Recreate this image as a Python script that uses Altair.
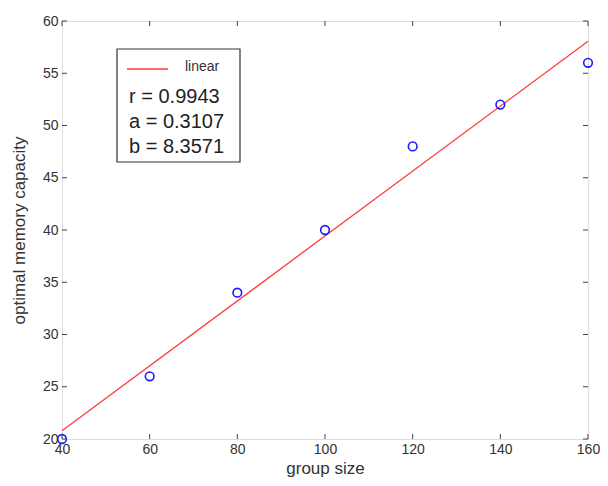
import altair as alt
import pandas as pd

# data
group_size = [40, 60, 80, 100, 120, 140, 160]
capacity = [20, 26, 34, 40, 48, 52, 56]
fit_a = 0.3107
fit_b = 8.3571
fit_r = 0.9943
x_ticks = [40, 60, 80, 100, 120, 140, 160]
y_ticks = [20, 25, 30, 35, 40, 45, 50, 55, 60]

W, H = 526, 418
FONT = "Liberation Sans"

pts = pd.DataFrame({"x": group_size, "y": capacity})
fit_x = [min(group_size), max(group_size)]
fit = pd.DataFrame({"x": fit_x, "y": [fit_a * v + fit_b for v in fit_x]})

xs = alt.Scale(domain=[40, 160], nice=False, zero=False)
ys = alt.Scale(domain=[20, 60], nice=False, zero=False)

x_axis = alt.Axis(values=x_ticks, title="group size", labelFont=FONT, labelFontSize=14,
                  labelColor="#333", titleFont=FONT, titleFontSize=17, titleFontWeight="normal",
                  titleColor="#333", tickSize=0, domain=False, grid=False, labelPadding=3,
                  titlePadding=4, labelFlush=False, labelOverlap=False)
y_axis = alt.Axis(values=y_ticks, title="optimal memory capacity", labelFont=FONT, labelFontSize=14,
                  labelColor="#333", titleFont=FONT, titleFontSize=17, titleFontWeight="normal",
                  titleColor="#333", tickSize=0, domain=False, grid=False, labelPadding=4,
                  titlePadding=14, labelFlush=False, labelOverlap=False)

line = alt.Chart(fit).mark_line(color="#ff3b3b", strokeWidth=1.3).encode(
    x=alt.X("x:Q", scale=xs, axis=x_axis),
    y=alt.Y("y:Q", scale=ys, axis=y_axis),
)
points = alt.Chart(pts).mark_point(shape="circle", filled=False, color="#1a1aff",
                                   strokeWidth=1.6, size=75, opacity=1).encode(
    x=alt.X("x:Q", scale=xs), y=alt.Y("y:Q", scale=ys))

xt = pd.DataFrame({"x": x_ticks})
yt = pd.DataFrame({"y": y_ticks})
tick_color = "#444"
xtick_b = alt.Chart(xt).mark_rule(color=tick_color).encode(
    x=alt.X("x:Q", scale=xs), y=alt.value(H), y2=alt.value(H - 5))
xtick_t = alt.Chart(xt).mark_rule(color=tick_color).encode(
    x=alt.X("x:Q", scale=xs), y=alt.value(0), y2=alt.value(5))
ytick_l = alt.Chart(yt).mark_rule(color=tick_color).encode(
    y=alt.Y("y:Q", scale=ys), x=alt.value(0), x2=alt.value(5))
ytick_r = alt.Chart(yt).mark_rule(color=tick_color).encode(
    y=alt.Y("y:Q", scale=ys), x=alt.value(W), x2=alt.value(W - 5))

# legend box
box = alt.Chart(pd.DataFrame({"k": [0]})).mark_rect(fill="white", stroke="#333", strokeWidth=1.2).encode(
    x=alt.value(55), x2=alt.value(178), y=alt.value(28), y2=alt.value(141))
sample = alt.Chart(pd.DataFrame({"k": [0]})).mark_rule(color="#ff3b3b", strokeWidth=1.3).encode(
    x=alt.value(65), x2=alt.value(106), y=alt.value(48))
lab = alt.Chart(pd.DataFrame({"t": ["linear"]})).mark_text(
    font=FONT, fontSize=14, color="#333", align="left", baseline="middle").encode(
    text="t:N", x=alt.value(123), y=alt.value(46))
stats = pd.DataFrame({
    "t": [f"r  = {fit_r:.4f}", f"a = {fit_a:.4f}", f"b = {fit_b:.4f}"],
    "py": [76, 101, 126],
})
stat_txt = alt.Chart(stats).mark_text(
    font=FONT, fontSize=20, color="#222", align="left", baseline="middle").encode(
    text="t:N", x=alt.value(67), y=alt.Y("py:Q", scale=None))

chart = alt.layer(line, points, xtick_b, xtick_t, ytick_l, ytick_r, box, sample, lab, stat_txt).properties(
    width=W, height=H,
    autosize=alt.AutoSizeParams(type="none"),
    padding={"left": 54, "top": 13, "right": 12, "bottom": 41},
).configure_view(stroke="#444", strokeWidth=1.2).configure(background="white")

chart.save("out.html", embed_options={"renderer": "svg", "actions": False})
